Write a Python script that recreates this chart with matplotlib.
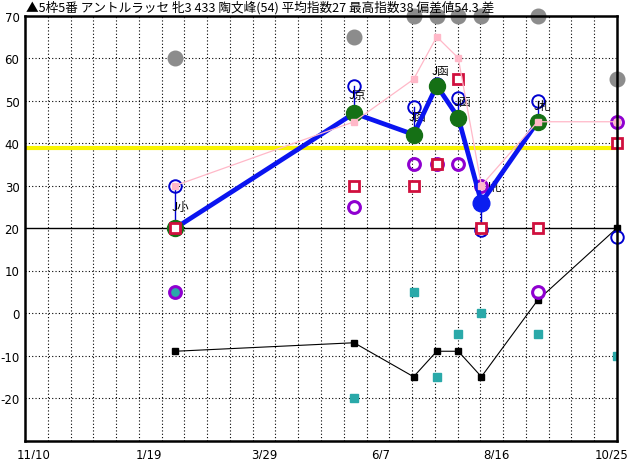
import matplotlib
matplotlib.use("Agg")
import matplotlib.pyplot as plt
import matplotlib.transforms as mtransforms
import numpy as np

plt.rcParams['font.family'] = ['Noto Sans CJK JP', 'DejaVu Sans']

# ---- data ----
title = "▲5枠5番 アントルラッセ 牝3 433 陶文峰(54) 平均指数27 最高指数38 偏差値54.3 差"
tick_days = [0, 70, 140, 210, 280, 350]
tick_labels = ["11/10", "1/19", "3/29", "6/7", "8/16", "10/25"]
race_days = [83, 191, 227, 241, 254, 268, 302, 350]

gray_vals = [60, 65, 70, 70, 70, 70, 70, 55]
pink_vals = [30, 45, 55, 65, 60, 30, 45, 45]
main_vals = [20, 47, 42, 53.5, 46, 26, 45]          # races 1-7
main_colors = ["#157015", "#157015", "#157015", "#157015", "#157015", "#0a1ef0", "#157015"]
blue_vals = [30, 53.5, 48.5, 54, 50.5, 19.5, 50, 18]
course_labels = ["J小", "J京", "J函", "J函", "J函", "J札", "J札", ""]
purple_vals = [5, 25, 35, 35, 35, 30, 5, 45]
crimson_vals = [20, 30, 30, 35, 55, 20, 20, 40]
teal_vals = [5, -20, 5, -15, -5, 0, -5, -10]
black_vals = [-9, -7, -15, -9, -9, -15, 3, 20]
base_line = 20
yellow_line = 38.8
y_ticks = [70, 60, 50, 40, 30, 20, 10, 0, -10, -20]

# ---- figure ----
W, H = 632, 460
fig = plt.figure(figsize=(W / 100, H / 100), dpi=100)
ax = fig.add_axes([25 / W, (H - 441.5) / H, 592 / W, 425 / H])
xmin, xmax = -8, 350
ax.set_xlim(xmin, xmax)
ax.set_ylim(-30, 70)

dot = (0, (1, 2))
for yv in y_ticks:
    if yv in (70, base_line):
        continue
    ax.axhline(yv, color="black", lw=0.8, ls=dot, zorder=1)
for xv in np.linspace(xmin, xmax, 27)[1:-1]:
    ax.axvline(xv, color="black", lw=0.8, ls=dot, zorder=1)
ax.axhline(base_line, color="black", lw=1.0, zorder=1.5)
ax.axhline(yellow_line, color="#f8f400", lw=3, zorder=1.6)

# gray circles
ax.plot(race_days, gray_vals, "o", ms=10.5, color="#8c8c8c", mec="#8c8c8c",
        zorder=3, clip_on=False)

# teal squares
ax.plot(race_days, teal_vals, "s", ms=6, color="#2aa9a9", mec="#2aa9a9", zorder=4)

# black line with squares
ax.plot(race_days, black_vals, "-", color="black", lw=0.8, zorder=4)
ax.plot(race_days, black_vals, "s", ms=4.2, color="black", zorder=4.1, clip_on=False)

# purple circles
ax.plot(race_days, purple_vals, "o", ms=8.5, mfc="none", mec="#8f00d0", mew=2.2,
        zorder=5, clip_on=False)

# blue open circles + stems
for i, (d, bv) in enumerate(zip(race_days, blue_vals)):
    if i < len(main_vals):
        ax.plot([d, d], [bv, main_vals[i]], color="#0000d0", lw=1.0, zorder=5.5)
ax.plot(race_days, blue_vals, "o", ms=9, mfc="none", mec="#0000d0", mew=1.4,
        zorder=5.6, clip_on=False)

# course labels
label_offsets = [(-4, -14), (-5, -2), (-5, -3), (-5, 20), (-5, 3), (3, 50), (-4, 2), (0, 0)]
label_z = [6, 6, 6, 8.5, 6, 4.5, 6, 6]
for d, bv, lab, off, z in zip(race_days, blue_vals, course_labels, label_offsets, label_z):
    if lab:
        ax.annotate(lab, (d, bv), xytext=off, textcoords="offset pixels",
                    ha="left", va="top", fontsize=8.3, color="black", zorder=z)

# main thick blue line + markers
ax.plot(race_days[:len(main_vals)], main_vals, "-", color="#0a14f0", lw=3.4, zorder=7)
for d, v, c in zip(race_days, main_vals, main_colors):
    ax.plot(d, v, "o", ms=12 if c != "#157015" else 11.5, color=c, mec=c, zorder=7.5)

# crimson open squares
ax.plot(race_days, crimson_vals, "s", ms=6.5, mfc="white", mec="#d0103e", mew=2.0,
        zorder=8, clip_on=False)

# pink line + squares
ax.plot(race_days, pink_vals, "-", color="#ffb8c8", lw=0.9, zorder=9)
ax.plot(race_days, pink_vals, "s", ms=4.5, color="#ffb8c8", mec="#ffb8c8", zorder=9.1,
        clip_on=False)

# axes styling
for s in ax.spines.values():
    s.set_linewidth(1.8)
    s.set_color("black")
    s.set_zorder(10)
ax.set_yticks(y_ticks)
ax.set_yticklabels([str(v) for v in y_ticks])
ax.set_xticks(tick_days)
ax.set_xticklabels(tick_labels)
ax.tick_params(length=0, labelsize=8.5, pad=5)
ax.tick_params(axis="y", pad=4)
for t in ax.get_yticklabels() + ax.get_xticklabels():
    t.set_family(["DejaVu Sans"])
shift = mtransforms.ScaledTranslation(-5 / 100, 0, fig.dpi_scale_trans)
for t in ax.get_xticklabels():
    t.set_transform(t.get_transform() + shift)

fig.text(26 / W, 1 - 8 / H, title, ha="left", va="center", fontsize=9.1)

fig.savefig("out.png", dpi=100)
